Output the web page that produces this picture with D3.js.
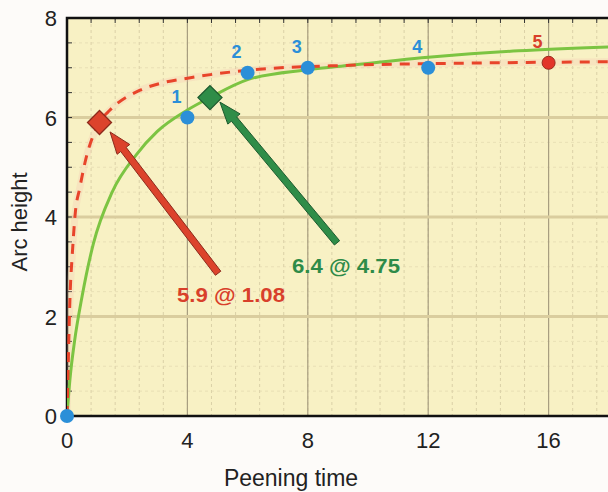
<!DOCTYPE html>
<html><head><meta charset="utf-8">
<script src="https://cdn.jsdelivr.net/npm/d3@7"></script>
<style>
html,body{margin:0;padding:0;background:#fdfbf9;}
text{font-family:Arial,"Liberation Sans",Helvetica,sans-serif;}
</style></head>
<body><svg id="c" width="608" height="492"></svg>
<script>
// ---- data ----
const xTicks = [0, 4, 8, 12, 16];
const yTicks = [0, 2, 4, 6, 8];
const pointX = [0, 4, 6, 8, 12, 16];
const pointY = [0, 6.0, 6.9, 7.0, 7.0, 7.1];
const pointLabel = ["", "1", "2", "3", "4", "5"];
const greenX = [0, 0.1, 0.25, 0.5, 0.87, 1.5, 2.3, 3, 4, 4.75, 6, 8, 9.4, 12.2, 15, 18];
const greenY = [0, 0.75, 1.5, 2.4, 3.45, 4.5, 5.25, 5.72, 6.15, 6.4, 6.76, 6.96, 7.05, 7.22, 7.34, 7.42];
const redX = [0, 0.04, 0.08, 0.12, 0.16, 0.27, 0.43, 0.6, 1.08, 1.43, 2.43, 3.2, 4.1, 6, 9.4, 13, 18];
const redY = [0, 1.0, 2.0, 2.7, 3.1, 4.05, 4.6, 5.1, 5.9, 6.15, 6.55, 6.7, 6.8, 6.95, 7.05, 7.09, 7.12];
const markX = [1.08, 4.75];
const markY = [5.9, 6.4];
const markText = ["5.9 @ 1.08", "6.4 @ 4.75"];
const arrowTailX = [5.02, 8.97];
const arrowTailY = [2.87, 3.48];
const arrowHeadX = [1.43, 5.08];
const arrowHeadY = [5.71, 6.31];
const labelX = [5.45, 9.27];
const labelY = [2.29, 2.87];

const svg = d3.select("#c");
const x = d3.scaleLinear().domain([0, 18]).range([67, 608.8]);
const y = d3.scaleLinear().domain([0, 8]).range([416, 18]);
const X0 = 67, X1 = 608, Y0 = 416, Y1 = 18;

svg.append("defs").append("clipPath").attr("id","clip")
  .append("rect").attr("x",X0).attr("y",Y1-10).attr("width",X1-X0+2).attr("height",Y0-Y1+20);

// plot background
svg.append("rect").attr("x",X0).attr("y",Y1).attr("width",X1-X0+1).attr("height",Y0-Y1).attr("fill","#f8f1c4");

const grid = svg.append("g");
// minor dotted grid
const minorX = d3.range(0.8, 18, 0.8);
grid.selectAll(".mx").data(minorX).enter().append("line")
  .attr("x1",d=>x(d)).attr("x2",d=>x(d)).attr("y1",Y1).attr("y2",Y0)
  .attr("stroke","#cfc49c").attr("stroke-width",1).attr("stroke-dasharray","3,3").attr("opacity",0.7);
const minorY = d3.range(0.5, 8, 0.5).filter(v => v % 2 !== 0);
grid.selectAll(".my").data(minorY).enter().append("line")
  .attr("x1",X0).attr("x2",X1).attr("y1",d=>y(d)).attr("y2",d=>y(d))
  .attr("stroke","#e0d6ad").attr("stroke-width",1).attr("stroke-dasharray","3,3").attr("opacity",0.6);
// major grid
grid.selectAll(".Mx").data(xTicks.filter(d=>d>0)).enter().append("line")
  .attr("x1",d=>x(d)).attr("x2",d=>x(d)).attr("y1",Y1).attr("y2",Y0)
  .attr("stroke","#a89e80").attr("stroke-width",1.2);
grid.selectAll(".My").data(yTicks.filter(d=>d>0 && d<8)).enter().append("line")
  .attr("x1",X0).attr("x2",X1).attr("y1",d=>y(d)).attr("y2",d=>y(d))
  .attr("stroke","#dacd9e").attr("stroke-width",3);

// inner minor ticks on left axis and top
svg.append("g").selectAll("line").data(d3.range(0.5, 8, 0.5)).enter().append("line")
  .attr("x1",X0).attr("x2",X0+5).attr("y1",d=>y(d)).attr("y2",d=>y(d))
  .attr("stroke","#333").attr("stroke-width",1);
svg.append("g").selectAll("line").data(d3.range(0.8, 18, 0.8)).enter().append("line")
  .attr("x1",d=>x(d)).attr("x2",d=>x(d)).attr("y1",Y1).attr("y2",Y1+5)
  .attr("stroke","#333").attr("stroke-width",1);

// frame
svg.append("path").attr("d",`M${X1+2},${Y1}H${X0}V${Y0}H${X1+2}`)
  .attr("fill","none").attr("stroke","#111").attr("stroke-width",2.5);

// axes labels
const fontTick = 22;
svg.append("g").selectAll("text").data(xTicks).enter().append("text")
  .attr("x",d=>x(d)).attr("y",Y0+32).attr("text-anchor","middle")
  .attr("font-size",fontTick).attr("fill","#222").text(d=>d);
svg.append("g").selectAll("text").data(yTicks).enter().append("text")
  .attr("x",X0-10).attr("y",d=>y(d)+8).attr("text-anchor","end")
  .attr("font-size",fontTick).attr("fill","#222").text(d=>d);
svg.append("text").attr("x",291).attr("y",486).attr("text-anchor","middle")
  .attr("font-size",23).attr("fill","#222").text("Peening time");
svg.append("text").attr("transform","translate(27,222) rotate(-90)").attr("text-anchor","middle")
  .attr("font-size",22).attr("fill","#222").text("Arc height");

// curves
const plot = svg.append("g").attr("clip-path","url(#clip)");
const line = d3.line().x(d=>x(d[0])).y(d=>y(d[1])).curve(d3.curveMonotoneX);
const greenPts = greenX.map((v,i)=>[v, greenY[i]]);
const redPts = redX.map((v,i)=>[v, redY[i]]);
plot.append("path").attr("d",line(redPts)).attr("fill","none")
  .attr("stroke","#f4c0b0").attr("stroke-width",7).attr("opacity",0.25);
plot.append("path").attr("d",line(greenPts)).attr("fill","none")
  .attr("stroke","#7cc442").attr("stroke-width",3);
plot.append("path").attr("d",line(redPts)).attr("fill","none")
  .attr("stroke","#e8442a").attr("stroke-width",3).attr("stroke-dasharray","10,8");

// arrows
const arrowColors = [{fill:"#dc432c", stroke:"#8c2a1c"}, {fill:"#2f8d48", stroke:"#1c5a2e"}];
function arrowPath(tx, ty, hx, hy) {
  const dx = hx - tx, dy = hy - ty, L = Math.hypot(dx, dy);
  const ux = dx / L, uy = dy / L, nx = -uy, ny = ux;
  const sw = 3.4, hw = 8, hl = 22;
  const bx = hx - ux * hl, by = hy - uy * hl;
  const p = [
    [tx + nx*sw, ty + ny*sw], [bx + nx*sw, by + ny*sw], [bx + nx*hw, by + ny*hw],
    [hx, hy], [bx - nx*hw, by - ny*hw], [bx - nx*sw, by - ny*sw], [tx - nx*sw, ty - ny*sw]
  ];
  return "M" + p.map(q => q[0].toFixed(1) + "," + q[1].toFixed(1)).join("L") + "Z";
}
arrowTailX.forEach((v,i)=>{
  svg.append("path").attr("d",arrowPath(x(v), y(arrowTailY[i]), x(arrowHeadX[i]), y(arrowHeadY[i])))
    .attr("fill",arrowColors[i].fill).attr("stroke",arrowColors[i].stroke).attr("stroke-width",1).attr("stroke-linejoin","round");
});

// diamonds
markX.forEach((v,i)=>{
  const cx = x(v), cy = y(markY[i]), r = 12;
  svg.append("path").attr("d",`M${cx},${cy-r}L${cx+r},${cy}L${cx},${cy+r}L${cx-r},${cy}Z`)
    .attr("fill",arrowColors[i].fill).attr("stroke",arrowColors[i].stroke).attr("stroke-width",1.3);
});

// annotation texts
const textColors = ["#d8402b", "#2e8b48"];
markText.forEach((t,i)=>{
  svg.append("text").attr("x",x(labelX[i])).attr("y",y(labelY[i])).attr("text-anchor","middle")
    .attr("font-size",21).attr("font-weight","bold").attr("fill",textColors[i])
    .attr("textLength",108).attr("lengthAdjust","spacingAndGlyphs").text(t);
});

// points
pointX.forEach((v,i)=>{
  const isRed = i === 5;
  svg.append("circle").attr("cx",x(v)).attr("cy",y(pointY[i])).attr("r",isRed?6.5:7)
    .attr("fill",isRed?"#e2352a":"#2b8fd8").attr("stroke",isRed?"#9a2a1b":"none").attr("stroke-width",1);
  if (pointLabel[i]) {
    svg.append("text").attr("x",x(v)-11).attr("y",y(pointY[i])-15).attr("text-anchor","middle")
      .attr("font-size",18).attr("font-weight","bold").attr("fill",isRed?"#d8402b":"#2b8fd8")
      .text(pointLabel[i]);
  }
});
</script></body></html>
